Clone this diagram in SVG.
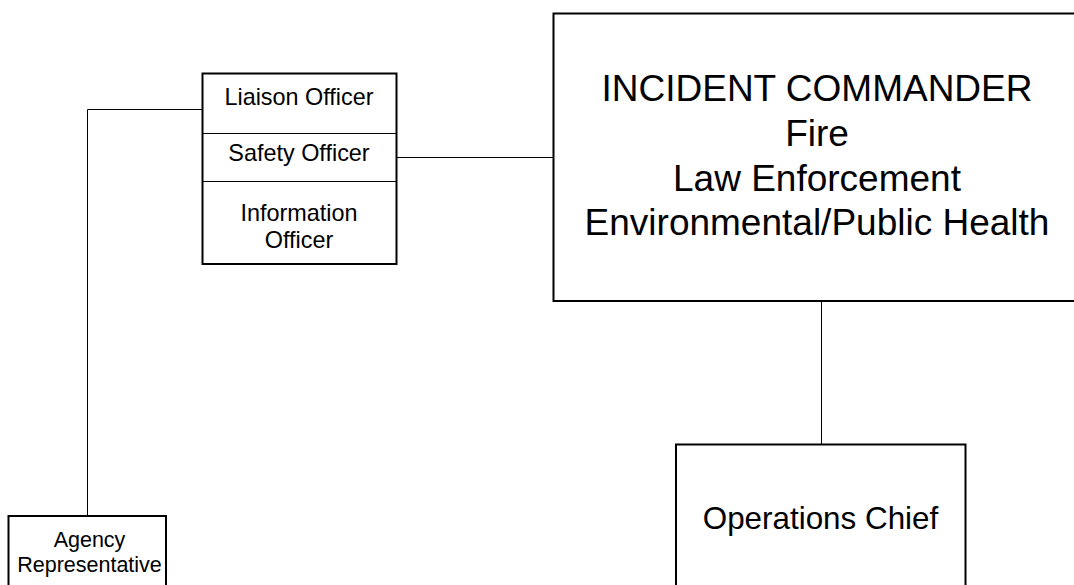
<svg xmlns="http://www.w3.org/2000/svg" width="1074" height="585" viewBox="0 0 1074 585">
<style>
.box{fill:#fff;stroke:#000;stroke-width:2}
.div{stroke:#000;stroke-width:1;fill:none}
.conn{stroke:#000;stroke-width:1;fill:none}
text{font-family:"Liberation Sans",Arial,sans-serif;fill:#000;text-anchor:middle}
.s{font-size:23.4px}
.a{font-size:21.5px}
.l{font-size:37px}
.o{font-size:31.4px}
</style>
<rect width="1074" height="585" fill="#fff"/>
<g id="connectors">
<polyline class="conn" points="202,109.5 87.5,109.5 87.5,516"/>
<line class="conn" x1="397" y1="157.5" x2="553" y2="157.5"/>
<line class="conn" x1="821.5" y1="301" x2="821.5" y2="444"/>
</g>
<g id="officers">
<rect class="box" x="202.5" y="73.5" width="194" height="190.5"/>
<line class="div" x1="203" y1="133.5" x2="396" y2="133.5"/>
<line class="div" x1="203" y1="181.5" x2="396" y2="181.5"/>
<text class="s" x="299" y="105">Liaison Officer</text>
<text class="s" x="299" y="161">Safety Officer</text>
<text class="s" x="299" y="221">Information</text>
<text class="s" x="299" y="247.7">Officer</text>
</g>
<g id="agency">
<rect class="box" x="8.5" y="516" width="157.5" height="80"/>
<text class="a" x="89.5" y="547">Agency</text>
<text class="a" x="89.5" y="571.7">Representative</text>
</g>
<g id="incident-commander">
<rect class="box" x="553.5" y="13.5" width="528" height="287.5"/>
<text class="l" x="817" y="101">INCIDENT COMMANDER</text>
<text class="l" x="817" y="145.7">Fire</text>
<text class="l" x="817" y="190.7">Law Enforcement</text>
<text class="l" x="817" y="235.3">Environmental/Public Health</text>
</g>
<g id="operations">
<rect class="box" x="676" y="444.5" width="289.5" height="160"/>
<text class="o" x="820.5" y="529">Operations Chief</text>
</g>
</svg>
